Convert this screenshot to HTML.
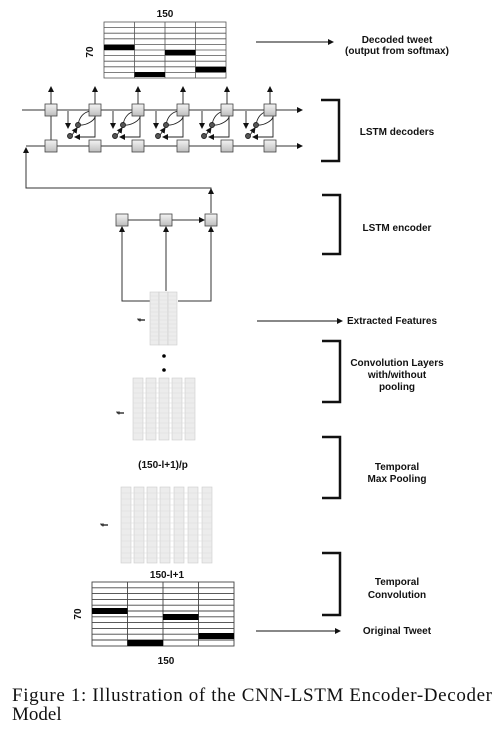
<!DOCTYPE html>
<html><head><meta charset="utf-8"><style>
html,body{margin:0;padding:0;background:#fff;width:499px;height:738px;overflow:hidden}
svg{display:block}
text{font-family:"Liberation Sans",Arial,sans-serif;font-weight:bold;font-size:10px;fill:#111}
.cap{font-family:"Liberation Serif",serif;font-weight:normal;font-size:19px;fill:#111}
</style></head><body>
<svg width="499" height="738" viewBox="0 0 499 738" xmlns="http://www.w3.org/2000/svg">
<defs>
<marker id="a" markerWidth="6" markerHeight="6" refX="5" refY="3" orient="auto" markerUnits="userSpaceOnUse"><path d="M0,0 L6,3 L0,6z" fill="#111"/></marker>
<linearGradient id="g" x1="0" y1="0" x2="0" y2="1"><stop offset="0" stop-color="#f4f4f4"/><stop offset="1" stop-color="#bdbdbd"/></linearGradient>
</defs>
<!-- top grid -->
<text x="165" y="17" text-anchor="middle">150</text>
<text transform="translate(93,52) rotate(-90)" text-anchor="middle">70</text>
<g stroke="#555" stroke-width="0.8" fill="none">
<rect x="104" y="22" width="122" height="56" fill="#fff"/>
<path d="M104 27.6H226M104 33.2H226M104 38.8H226M104 44.4H226M104 50H226M104 55.6H226M104 61.2H226M104 66.8H226M104 72.4H226"/>
<path d="M134.5 22V78M165 22V78M195.5 22V78"/>
</g>
<rect x="104" y="45" width="30.5" height="5" fill="#000"/>
<rect x="134.5" y="72" width="30.5" height="5" fill="#000"/>
<rect x="165" y="50" width="30.5" height="5" fill="#000"/>
<rect x="195.5" y="67" width="30.5" height="5" fill="#000"/>
<line x1="256" y1="42" x2="333" y2="42" stroke="#111" stroke-width="1" marker-end="url(#a)"/>
<text x="397" y="43" text-anchor="middle" font-size="9.5">Decoded tweet</text>
<text x="397" y="54" text-anchor="middle" font-size="9.5">(output from softmax)</text>

<!-- LSTM decoders -->
<g stroke="#333" stroke-width="1" fill="none">
<line x1="22" y1="110" x2="302" y2="110" marker-end="url(#a)"/>
<line x1="26" y1="146" x2="302" y2="146" marker-end="url(#a)"/>
<line x1="51" y1="110" x2="51" y2="146"/>
<line x1="51" y1="104" x2="51" y2="87" marker-end="url(#a)"/>
<line x1="95" y1="104" x2="95" y2="87" marker-end="url(#a)"/>
<line x1="138" y1="104" x2="138" y2="87" marker-end="url(#a)"/>
<line x1="183" y1="104" x2="183" y2="87" marker-end="url(#a)"/>
<line x1="227" y1="104" x2="227" y2="87" marker-end="url(#a)"/>
<line x1="270" y1="104" x2="270" y2="87" marker-end="url(#a)"/>
</g>
<g id="cell" stroke="#222" stroke-width="0.9" fill="none">
<line x1="68" y1="111" x2="68" y2="128" marker-end="url(#a)"/>
<path d="M95 116 V137 H75" marker-end="url(#a)"/>
<path d="M78 125 C80 112 92 108 95 114 C97 120 86 126 78 125"/>
<line x1="72" y1="135" x2="77" y2="128" marker-end="url(#a)"/>
<circle cx="78" cy="125" r="2.5" fill="#555"/>
<circle cx="70" cy="136" r="2.5" fill="#555"/>
</g>
<use href="#cell" x="45"/><use href="#cell" x="88"/><use href="#cell" x="134"/><use href="#cell" x="178"/>
<g fill="url(#g)" stroke="#444" stroke-width="0.8">
<rect x="45" y="104" width="12" height="12"/><rect x="89" y="104" width="12" height="12"/><rect x="132" y="104" width="12" height="12"/><rect x="177" y="104" width="12" height="12"/><rect x="221" y="104" width="12" height="12"/><rect x="264" y="104" width="12" height="12"/>
<rect x="45" y="140" width="12" height="12"/><rect x="89" y="140" width="12" height="12"/><rect x="132" y="140" width="12" height="12"/><rect x="177" y="140" width="12" height="12"/><rect x="221" y="140" width="12" height="12"/><rect x="264" y="140" width="12" height="12"/>
</g>
<path d="M321 100 H339 V161 H321" stroke="#111" stroke-width="2.5" fill="none"/>
<text x="397" y="135" text-anchor="middle">LSTM decoders</text>

<!-- feedback -->
<g stroke="#333" stroke-width="1" fill="none">
<path d="M211 213 V188 H26 V148" marker-end="url(#a)"/>
<line x1="211" y1="195" x2="211" y2="189" marker-end="url(#a)"/>
<line x1="128" y1="220" x2="204" y2="220" marker-end="url(#a)"/>
<path d="M150 301 H122 V227" marker-end="url(#a)"/>
<line x1="166" y1="291" x2="166" y2="227" marker-end="url(#a)"/>
<path d="M178 301 H211 V227" marker-end="url(#a)"/>
</g>
<g fill="url(#g)" stroke="#444" stroke-width="0.8">
<rect x="116" y="214" width="12" height="12"/><rect x="160" y="214" width="12" height="12"/><rect x="205" y="214" width="12" height="12"/>
</g>
<path d="M322 195 H340 V254 H322" stroke="#111" stroke-width="2.5" fill="none"/>
<text x="397" y="231" text-anchor="middle">LSTM encoder</text>

<!-- features -->
<g fill="#ececec" stroke="#ccc" stroke-width="0.6">
<rect x="150" y="292" width="9" height="53"/><rect x="159" y="292" width="9" height="53"/><rect x="168" y="292" width="9" height="53"/>
</g>
<g stroke="#ddd" stroke-width="0.5"><path d="M150 296H177M150 300H177M150 304H177M150 308H177M150 312H177M150 316H177M150 320H177M150 324H177M150 328H177M150 332H177M150 336H177M150 340H177"/></g>
<text transform="translate(145,320) rotate(-90)" text-anchor="middle" font-size="7" fill="#335">f</text>
<circle cx="164" cy="356" r="1.8" fill="#000"/><circle cx="164" cy="370" r="1.8" fill="#000"/>
<line x1="257" y1="321" x2="342" y2="321" stroke="#111" stroke-width="1" marker-end="url(#a)"/>
<text x="347" y="324">Extracted Features</text>

<!-- conv block 5 cols -->
<g fill="#ececec" stroke="#ccc" stroke-width="0.6">
<rect x="133" y="378" width="10" height="62"/><rect x="146" y="378" width="10" height="62"/><rect x="159" y="378" width="10" height="62"/><rect x="172" y="378" width="10" height="62"/><rect x="185" y="378" width="10" height="62"/>
</g>
<g stroke="#ddd" stroke-width="0.5"><path d="M133 383H195M133 388H195M133 393H195M133 398H195M133 403H195M133 408H195M133 413H195M133 418H195M133 423H195M133 428H195M133 433H195"/></g>
<text transform="translate(124,413) rotate(-90)" text-anchor="middle" font-size="7" fill="#335">f</text>
<text x="163" y="468" text-anchor="middle" font-size="9.5">(150-l+1)/p</text>
<path d="M322 341 H340 V402 H322" stroke="#111" stroke-width="2.5" fill="none"/>
<text x="397" y="366" text-anchor="middle" font-size="9.5">Convolution Layers</text>
<text x="397" y="378" text-anchor="middle" font-size="9.5">with/without</text>
<text x="397" y="390" text-anchor="middle" font-size="9.5">pooling</text>

<!-- pooling 7 cols -->
<g fill="#ececec" stroke="#ccc" stroke-width="0.6">
<rect x="121" y="487" width="10" height="76"/><rect x="134" y="487" width="10" height="76"/><rect x="147" y="487" width="10" height="76"/><rect x="160" y="487" width="10" height="76"/><rect x="174" y="487" width="10" height="76"/><rect x="188" y="487" width="10" height="76"/><rect x="202" y="487" width="10" height="76"/>
</g>
<g stroke="#ddd" stroke-width="0.5"><path d="M121 493H212M121 499H212M121 505H212M121 511H212M121 517H212M121 523H212M121 529H212M121 535H212M121 541H212M121 547H212M121 553H212M121 558H212"/></g>
<text transform="translate(108,525) rotate(-90)" text-anchor="middle" font-size="7" fill="#533">f</text>
<text x="167" y="578" text-anchor="middle" font-size="9.5">150-l+1</text>
<path d="M322 437 H340 V498 H322" stroke="#111" stroke-width="2.5" fill="none"/>
<text x="397" y="470" text-anchor="middle">Temporal</text>
<text x="397" y="482" text-anchor="middle">Max Pooling</text>
<path d="M322 553 H340 V615 H322" stroke="#111" stroke-width="2.5" fill="none"/>
<text x="397" y="585" text-anchor="middle">Temporal</text>
<text x="397" y="598" text-anchor="middle">Convolution</text>

<!-- bottom grid -->
<g stroke="#444" stroke-width="0.9" fill="none">
<rect x="92" y="582" width="142" height="64" fill="#fff"/>
<path d="M92 587.8H234M92 593.6H234M92 599.4H234M92 605.2H234M92 611H234M92 616.8H234M92 622.6H234M92 628.4H234M92 634.2H234M92 640H234"/>
<path d="M127.5 582V646M163 582V646M198.5 582V646"/>
</g>
<rect x="92" y="608" width="35.5" height="6" fill="#000"/>
<rect x="127.5" y="640" width="35.5" height="6" fill="#000"/>
<rect x="163" y="614" width="35.5" height="6" fill="#000"/>
<rect x="198.5" y="633" width="35.5" height="6" fill="#000"/>
<text transform="translate(81,614) rotate(-90)" text-anchor="middle">70</text>
<text x="166" y="664" text-anchor="middle">150</text>
<line x1="256" y1="631" x2="340" y2="631" stroke="#111" stroke-width="1" marker-end="url(#a)"/>
<text x="397" y="634" text-anchor="middle">Original Tweet</text>

<text x="12" y="701" class="cap" textLength="480" lengthAdjust="spacing">Figure 1: Illustration of the CNN-LSTM Encoder-Decoder</text>
<text x="12" y="720" class="cap">Model</text>
</svg>
</body></html>
